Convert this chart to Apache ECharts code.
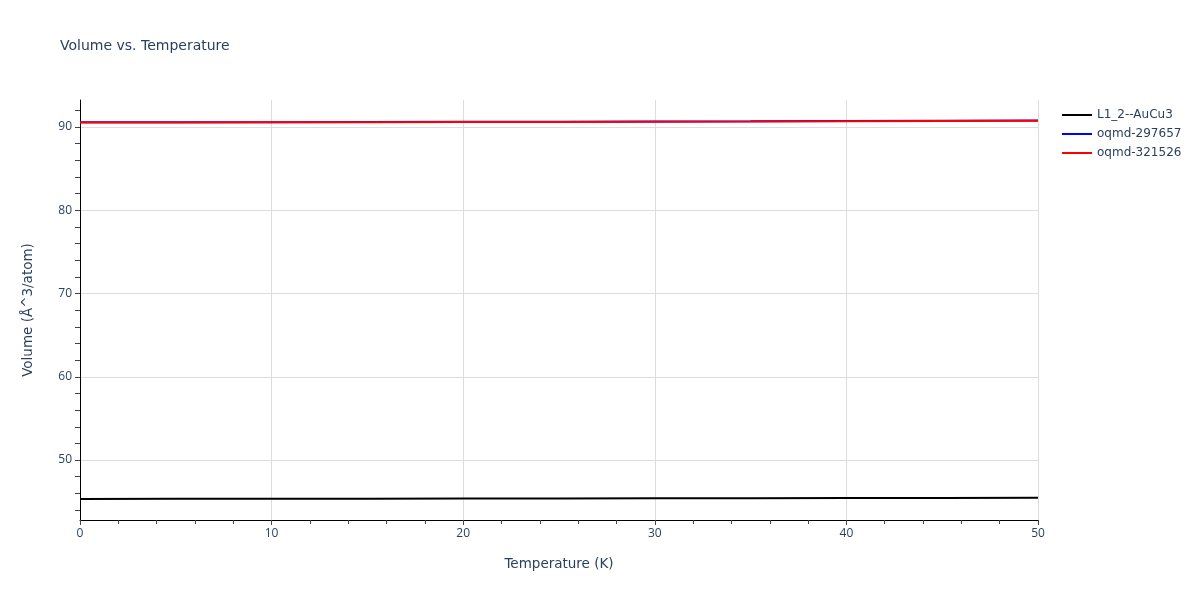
<!DOCTYPE html>
<html><head><meta charset="utf-8">
<script src="https://cdn.jsdelivr.net/npm/echarts@6/dist/echarts.min.js"></script>
<style>html,body{margin:0;padding:0;background:#fff}#c{width:1200px;height:600px}</style>
</head><body><div id="c"></div>
<script>
const temperatures = [0, 5, 10, 15, 20, 25, 30, 35, 40, 45, 50];
const volL12AuCu3 = [45.33, 45.34, 45.35, 45.36, 45.37, 45.38, 45.40, 45.41, 45.43, 45.45, 45.47];
const volOqmd297657 = [90.57, 90.58, 90.59, 90.61, 90.63, 90.65, 90.67, 90.69, 90.72, 90.75, 90.78];
const volOqmd321526 = [90.55, 90.56, 90.57, 90.58, 90.60, 90.62, 90.64, 90.66, 90.69, 90.72, 90.76];
const yLabelValues = [50, 60, 70, 80, 90];
const yMinorValues = [44, 46, 48, 52, 54, 56, 58, 62, 64, 66, 68, 72, 74, 76, 78, 82, 84, 86, 88, 92];

const txt = '#2a3f5f';
const font = '"DejaVu Sans", Verdana, sans-serif';
const tickFont = '"Open Sans", Verdana, sans-serif';
const chart = echarts.init(document.getElementById('c'));
const mk = (arr) => temperatures.map((t, i) => [t, arr[i]]);
chart.setOption({
  animation: false,
  textStyle: { fontFamily: font },
  title: { text: 'Volume vs. Temperature', left: 55, top: 34, textStyle: { fontFamily: font, fontSize: 14, fontWeight: 'normal', color: txt } },
  legend: {
    orient: 'vertical', left: 1057, top: 104, itemWidth: 30, itemHeight: 2, itemGap: 7,
    icon: 'rect',
    textStyle: { fontFamily: font, fontSize: 12, color: txt },
    data: ['L1_2--AuCu3', 'oqmd-297657', 'oqmd-321526']
  },
  grid: { left: 80, right: 162, top: 100, bottom: 80, containLabel: false },
  xAxis: {
    type: 'value', min: 0, max: 50, interval: 10,
    name: 'Temperature (K)', nameLocation: 'middle', nameGap: 37,
    nameTextStyle: { fontFamily: font, fontSize: 13.5, color: txt },
    axisLine: { show: true, onZero: false, lineStyle: { color: '#000', width: 1 } },
    axisTick: { show: true, length: 5, lineStyle: { color: '#444' } },
    minorTick: { show: true, splitNumber: 5, length: 4, lineStyle: { color: '#444' } },
    axisLabel: { fontFamily: tickFont, fontSize: 12, color: txt, margin: 8 },
    splitLine: { show: true, lineStyle: { color: '#ddd', width: 1 } }
  },
  yAxis: [{
    type: 'value', min: 42.8, max: 93.25,
    name: 'Volume (Å^3/atom)', nameLocation: 'middle', nameGap: 45,
    nameTextStyle: { fontFamily: font, fontSize: 13.5, color: txt },
    axisLine: { show: true, onZero: false, lineStyle: { color: '#000', width: 1 } },
    axisTick: { show: true, length: 5, customValues: yMinorValues.concat(yLabelValues), lineStyle: { color: '#444' } },
    axisLabel: { fontFamily: tickFont, fontSize: 12, color: txt, margin: 8, customValues: yLabelValues },
    splitLine: { show: false }
  }, {
    type: 'value', min: 42.8, max: 93.25, position: 'left',
    axisLine: { show: false },
    axisTick: { show: false, customValues: yLabelValues },
    axisLabel: { show: false, customValues: yLabelValues },
    splitLine: { show: true, lineStyle: { color: '#ddd', width: 1 } }
  }],
  series: [
    { name: 'L1_2--AuCu3', type: 'line', showSymbol: false, data: mk(volL12AuCu3), lineStyle: { color: '#000', width: 2 }, itemStyle: { color: '#000' } },
    { name: 'oqmd-297657', type: 'line', showSymbol: false, data: mk(volOqmd297657), lineStyle: { color: '#0000ff', width: 2 }, itemStyle: { color: '#0000ff' } },
    { name: 'oqmd-321526', type: 'line', showSymbol: false, data: mk(volOqmd321526), lineStyle: { color: '#ff0000', width: 2 }, itemStyle: { color: '#ff0000' } }
  ]
});
</script></body></html>
